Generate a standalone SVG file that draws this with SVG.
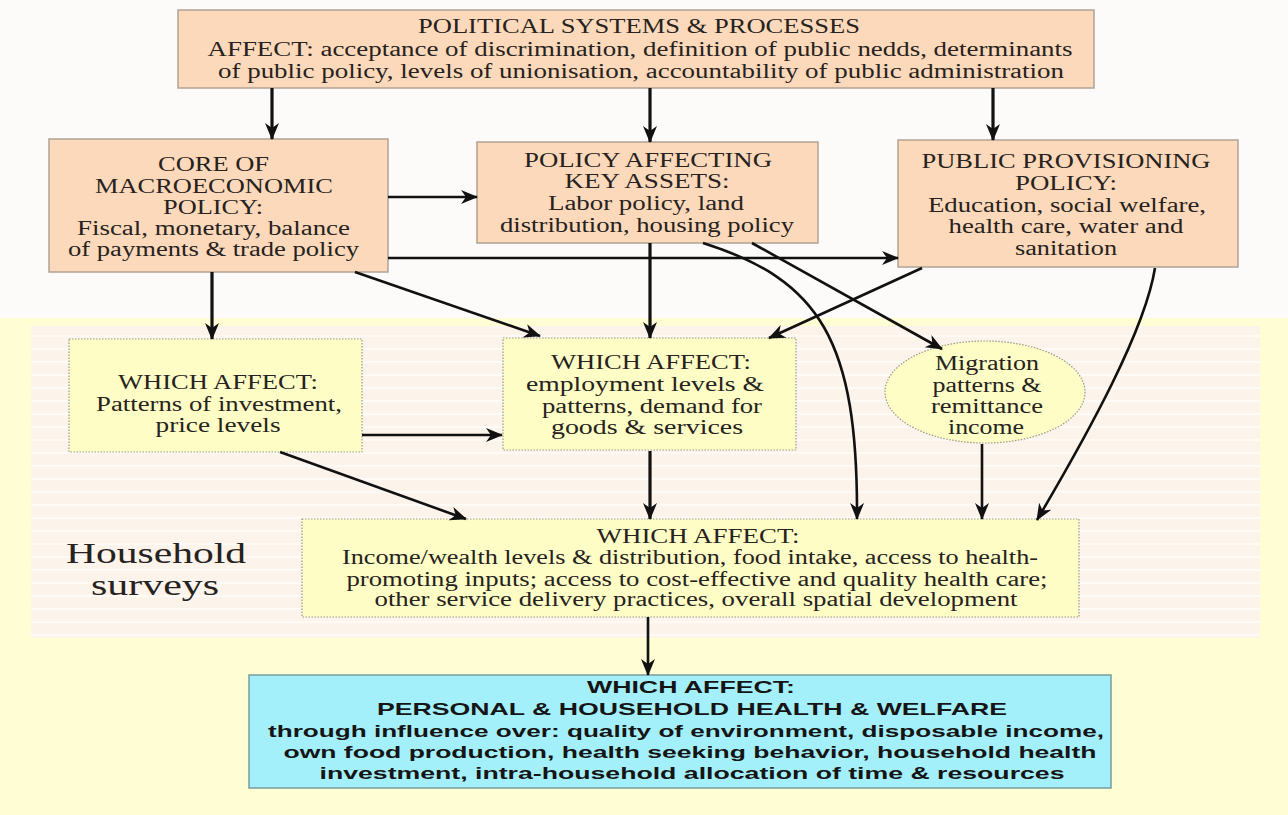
<svg xmlns="http://www.w3.org/2000/svg" width="1288" height="815" viewBox="0 0 1288 815">
<defs>
<marker id="ah" markerUnits="userSpaceOnUse" markerWidth="18" markerHeight="16" refX="16" refY="7" orient="auto">
<path d="M0,0 L17,7 L0,14 L5,7 Z" fill="#111"/>
</marker>
<pattern id="stripes" patternUnits="userSpaceOnUse" width="12" height="13">
<rect width="12" height="13" fill="#fcf3ea"/>
<rect y="10" width="12" height="2" fill="#fefbf7"/>
</pattern>
<style>
.peach{fill:#fcd9ba;stroke:#b0a294;stroke-width:1.5}
.yel{fill:#fefdc6;stroke:#9a9a8a;stroke-width:1.2;stroke-dasharray:1.5 1.5}
.cyan{fill:#a4f0fa;stroke:#7a9c9e;stroke-width:1.5}
.t{font-family:"Liberation Serif","Times New Roman",serif;font-size:20px;fill:#262220;text-anchor:middle}
.h{font-family:"Liberation Serif","Times New Roman",serif;font-size:30px;fill:#262220;text-anchor:middle}
.b{font-family:"Liberation Sans",Arial,sans-serif;font-weight:bold;font-size:17px;fill:#151515;text-anchor:middle}
.c{fill:none;stroke:#111;stroke-width:2.6;marker-end:url(#ah)}
.c3{stroke-width:3.2}
</style>
</defs>
<rect width="1288" height="815" fill="#fcfbfa"/>
<rect x="0" y="318" width="1288" height="497" fill="#fefdd4"/>
<rect x="31" y="326" width="1229" height="312" fill="url(#stripes)"/>

<g id="political">
<rect class="peach" x="178" y="10" width="916" height="78"/>
<text class="t" x="639" y="33" textLength="442" lengthAdjust="spacingAndGlyphs">POLITICAL SYSTEMS &amp; PROCESSES</text>
<text class="t" x="640" y="56" textLength="865" lengthAdjust="spacingAndGlyphs">AFFECT: acceptance of discrimination, definition of public nedds, determinants</text>
<text class="t" x="641" y="78" textLength="846" lengthAdjust="spacingAndGlyphs">of public policy, levels of unionisation, accountability of public administration</text>
</g>

<g id="core">
<rect class="peach" x="49" y="139" width="339" height="133"/>
<text class="t" x="213.5" y="171" textLength="111" lengthAdjust="spacingAndGlyphs">CORE OF</text>
<text class="t" x="214" y="193" textLength="238" lengthAdjust="spacingAndGlyphs">MACROECONOMIC</text>
<text class="t" x="213" y="214" textLength="100" lengthAdjust="spacingAndGlyphs">POLICY:</text>
<text class="t" x="213.5" y="235" textLength="273" lengthAdjust="spacingAndGlyphs">Fiscal, monetary, balance</text>
<text class="t" x="213.5" y="256" textLength="291" lengthAdjust="spacingAndGlyphs">of payments &amp; trade policy</text>
</g>

<g id="keyassets">
<rect class="peach" x="477" y="142" width="341" height="101"/>
<text class="t" x="648" y="167" textLength="248" lengthAdjust="spacingAndGlyphs">POLICY AFFECTING</text>
<text class="t" x="647" y="188" textLength="165" lengthAdjust="spacingAndGlyphs">KEY ASSETS:</text>
<text class="t" x="646" y="210" textLength="196" lengthAdjust="spacingAndGlyphs">Labor policy, land</text>
<text class="t" x="647" y="232" textLength="294" lengthAdjust="spacingAndGlyphs">distribution, housing policy</text>
</g>

<g id="provisioning">
<rect class="peach" x="898" y="140" width="340" height="127"/>
<text class="t" x="1066" y="168" textLength="289" lengthAdjust="spacingAndGlyphs">PUBLIC PROVISIONING</text>
<text class="t" x="1066" y="190" textLength="102" lengthAdjust="spacingAndGlyphs">POLICY:</text>
<text class="t" x="1067" y="212" textLength="278" lengthAdjust="spacingAndGlyphs">Education, social welfare,</text>
<text class="t" x="1066" y="233" textLength="235" lengthAdjust="spacingAndGlyphs">health care, water and</text>
<text class="t" x="1066" y="255" textLength="102" lengthAdjust="spacingAndGlyphs">sanitation</text>
</g>

<g id="investment">
<rect class="yel" x="69" y="339" width="293" height="113"/>
<text class="t" x="218" y="389" textLength="200" lengthAdjust="spacingAndGlyphs">WHICH AFFECT:</text>
<text class="t" x="219" y="411" textLength="246" lengthAdjust="spacingAndGlyphs">Patterns of investment,</text>
<text class="t" x="218" y="432" textLength="125" lengthAdjust="spacingAndGlyphs">price levels</text>
</g>

<g id="employment">
<rect class="yel" x="503" y="338" width="293" height="112"/>
<text class="t" x="651" y="369" textLength="200" lengthAdjust="spacingAndGlyphs">WHICH AFFECT:</text>
<text class="t" x="645" y="391" textLength="238" lengthAdjust="spacingAndGlyphs">employment levels &amp;</text>
<text class="t" x="652" y="413" textLength="220" lengthAdjust="spacingAndGlyphs">patterns, demand for</text>
<text class="t" x="647" y="434" textLength="192" lengthAdjust="spacingAndGlyphs">goods &amp; services</text>
</g>

<g id="migration">
<ellipse class="yel" cx="985" cy="392" rx="100" ry="51"/>
<text class="t" x="987" y="370" textLength="104" lengthAdjust="spacingAndGlyphs">Migration</text>
<text class="t" x="987" y="392" textLength="109" lengthAdjust="spacingAndGlyphs">patterns &amp;</text>
<text class="t" x="987" y="413" textLength="112" lengthAdjust="spacingAndGlyphs">remittance</text>
<text class="t" x="986" y="434" textLength="76" lengthAdjust="spacingAndGlyphs">income</text>
</g>

<g id="household-label">
<text class="h" x="156" y="563" textLength="180" lengthAdjust="spacingAndGlyphs">Household</text>
<text class="h" x="155" y="595" textLength="128" lengthAdjust="spacingAndGlyphs">surveys</text>
</g>

<g id="income">
<rect class="yel" x="302" y="519" width="777" height="98"/>
<text class="t" x="698" y="543" textLength="203" lengthAdjust="spacingAndGlyphs">WHICH AFFECT:</text>
<text class="t" x="690" y="564" textLength="696" lengthAdjust="spacingAndGlyphs">Income/wealth levels &amp; distribution, food intake, access to health-</text>
<text class="t" x="697" y="586" textLength="701" lengthAdjust="spacingAndGlyphs">promoting inputs; access to cost-effective and quality health care;</text>
<text class="t" x="696" y="606" textLength="643" lengthAdjust="spacingAndGlyphs">other service delivery practices, overall spatial development</text>
</g>

<g id="health">
<rect class="cyan" x="249" y="675" width="862" height="113"/>
<text class="b" x="691" y="693" textLength="208" lengthAdjust="spacingAndGlyphs">WHICH AFFECT:</text>
<text class="b" x="692" y="715" textLength="630" lengthAdjust="spacingAndGlyphs">PERSONAL &amp; HOUSEHOLD HEALTH &amp; WELFARE</text>
<text class="b" x="686" y="737" textLength="836" lengthAdjust="spacingAndGlyphs">through influence over: quality of environment, disposable income,</text>
<text class="b" x="690" y="758" textLength="813" lengthAdjust="spacingAndGlyphs">own food production, health seeking behavior, household health</text>
<text class="b" x="692" y="779" textLength="745" lengthAdjust="spacingAndGlyphs">investment, intra-household allocation of time &amp; resources</text>
</g>

<g id="connectors">
<path class="c c3" d="M272,88 L272,139"/>
<path class="c c3" d="M650,88 L650,142"/>
<path class="c c3" d="M993,88 L993,140"/>
<path class="c" d="M388,197 L477,197"/>
<path class="c" d="M388,258 L898,258"/>
<path class="c c3" d="M212,272 L212,339"/>
<path class="c" d="M355,272 L540,336"/>
<path class="c c3" d="M650,243 L650,338"/>
<path class="c" d="M703,243 C820,280 858,340 857,519"/>
<path class="c" d="M752,243 L942,349"/>
<path class="c" d="M922,268 L769,338"/>
<path class="c" d="M1155,268 C1145,330 1090,430 1037,520"/>
<path class="c" d="M362,435 L502,435"/>
<path class="c" d="M280,452 L466,519"/>
<path class="c c3" d="M650,451 L650,519"/>
<path class="c" d="M982,444 L982,519"/>
<path class="c" d="M648,617 L648,675"/>
</g>
</svg>
